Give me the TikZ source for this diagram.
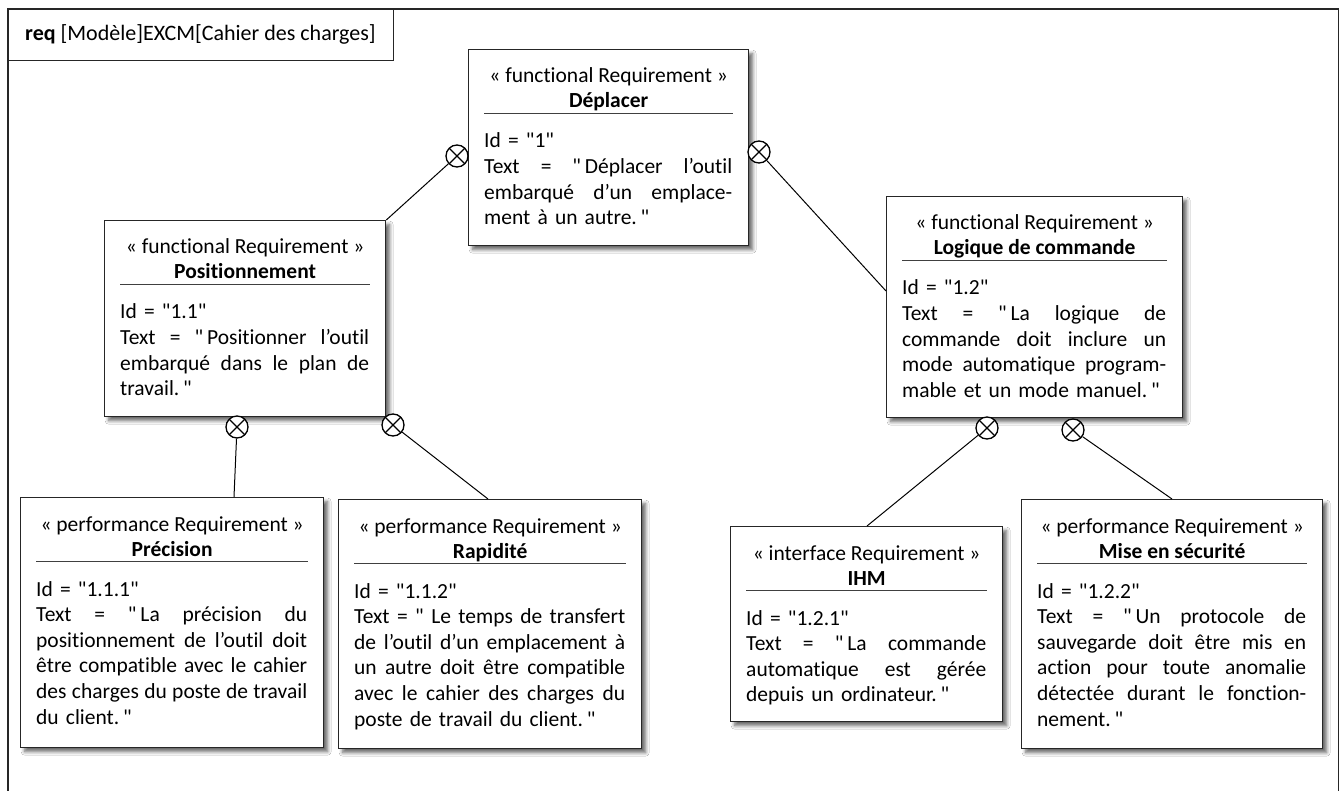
\documentclass[tikz,border=0pt]{standalone}
\usepackage{fontspec}
\setmainfont{Carlito}
\newfontfamily\calfont{Carlito}[Ligatures=NoCommon]
\usetikzlibrary{calc,shadows.blur}

\newcommand\jl[1]{\makebox[\hsize][s]{\spaceskip=0pt\xspaceskip=0pt #1}}
\newcommand\oq{"\hspace{0.18em}}
\newcommand\cq{\hspace{0.18em}"}
% name, left x, top y, width, height, stereotype, title, body width, body
\newcommand\reqbox[9]{%
  \node[reqbox, minimum width=#4pt, minimum height=#5pt, anchor=north west] (#1) at (#2,#3) {};
  \node[stereo, anchor=base] (#1-st) at ($(#1.north)+(0,34)$) {#6};
  \node[titl, anchor=base] (#1-ti) at ($(#1.north)+(0,59)$) {#7};
  \draw[sepline] ($(#1.north west)+(16,64.5)$) -- ($(#1.north east)+(-16,64.5)$);
  \node[body, text width=#8pt, anchor=base west] (#1-bd) at ($(#1.north west)+(16,99)$) {#9};
}

\begin{document}
\begin{tikzpicture}[x=1pt, y=-1pt,
  reqbox/.style={draw=black!85, line width=1.3pt, fill=white, inner sep=0pt,
    blur shadow={shadow xshift=4pt, shadow yshift=-4pt, shadow blur radius=3.5pt, shadow blur steps=7, shadow opacity=60}},
  stereo/.style={inner sep=0pt, font=\calfont\fontsize{21.5}{25.6}\selectfont\frenchspacing},
  titl/.style={inner sep=0pt, font=\calfont\fontsize{21.5}{25.6}\selectfont\bfseries},
  body/.style={inner sep=0pt, align=left, font=\calfont\fontsize{21.5}{25.6}\selectfont\frenchspacing},
  sepline/.style={draw=black!75, line width=1.1pt},
  conn/.style={draw=black, line width=1pt},
  xcirc/.style={circle, draw=black, line width=1.3pt, minimum size=22pt, inner sep=0pt, fill=white,
    path picture={\draw[line width=1.1pt] (path picture bounding box.north west) -- (path picture bounding box.south east)
      (path picture bounding box.north east) -- (path picture bounding box.south west);}},
  frame/.style={draw=black!85, line width=1.4pt}
]
\useasboundingbox (0,0) rectangle (1339,791);
\fill[white] (0,0) rectangle (1339,791);

% outer frame and header
\draw[frame] (8,9) rectangle (1338.5,800);
\node[frame, anchor=north west, minimum width=385pt, minimum height=51pt, inner sep=0pt] (hdr) at (8,9) {};
\node[anchor=base west, inner sep=0pt, font=\calfont\fontsize{22}{26}\selectfont] (hdrtxt) at (25,41)
  {\textbf{req} [Modèle]EXCM[Cahier des charges]};

% requirement boxes
\reqbox{dep}{468}{49}{280}{196}{« functional Requirement »}{Déplacer}{248}{%
Id = "1"\\
\jl{Text = \oq Déplacer l’outil}\\
\jl{embarqué d’un emplace-}\\
ment à un autre.\cq}

\reqbox{pos}{104}{220}{281}{196}{« functional Requirement »}{Positionnement}{249}{%
Id = "1.1"\\
\jl{Text = \oq Positionner l’outil}\\
\jl{embarqué dans le plan de}\\
travail.\cq}

\reqbox{log}{886}{196}{296}{221}{« functional Requirement »}{Logique de commande}{264}{%
Id = "1.2"\\
\jl{Text = \oq La logique de}\\
\jl{commande doit inclure un}\\
\jl{mode automatique program-}\\
mable et un mode manuel.\cq}

\reqbox{pre}{20}{497}{303}{250}{« performance Requirement »}{Précision}{271}{%
Id = "1.1.1"\\
\jl{Text = \oq La précision du}\\
\jl{positionnement de l’outil doit}\\
\jl{être compatible avec le cahier}\\
\jl{des charges du poste de travail}\\
du client.\cq}

\reqbox{rap}{338}{499}{303}{249}{« performance Requirement »}{Rapidité}{271}{%
Id = "1.1.2"\\
\jl{Text = " Le temps de transfert}\\
\jl{de l’outil d’un emplacement à}\\
\jl{un autre doit être compatible}\\
\jl{avec le cahier des charges du}\\
poste de travail du client.\cq}

\reqbox{ihm}{730}{526}{272}{195}{« interface Requirement »}{IHM}{240}{%
Id = "1.2.1"\\
\jl{Text = \oq La commande}\\
\jl{automatique est gérée}\\
depuis un ordinateur.\cq}

\reqbox{mis}{1021}{499}{301}{249}{« performance Requirement »}{Mise en sécurité}{269}{%
Id = "1.2.2"\\
\jl{Text = \oq Un protocole de}\\
\jl{sauvegarde doit être mis en}\\
\jl{action pour toute anomalie}\\
\jl{détectée durant le fonction-}\\
nement.\cq}

% containment circles
\node[xcirc] (c1) at (457,156) {};
\node[xcirc] (c2) at (759,152) {};
\node[xcirc] (c3) at (237,427) {};
\node[xcirc] (c4) at (393,425) {};
\node[xcirc] (c5) at (987,428) {};
\node[xcirc] (c6) at (1073,430) {};

% connector ends
\coordinate (log-in) at (886,291);
\coordinate (pre-in) at (234,497);
\coordinate (rap-in) at (488,499);
\coordinate (ihm-in) at (867,526);
\coordinate (mis-in) at (1172,499);

\draw[conn] (c1) -- (pos.north east);
\draw[conn] (c2) -- (log-in);
\draw[conn] (c3) -- (pre-in);
\draw[conn] (c4) -- (rap-in);
\draw[conn] (c5) -- (ihm-in);
\draw[conn] (c6) -- (mis-in);
\end{tikzpicture}
\end{document}
